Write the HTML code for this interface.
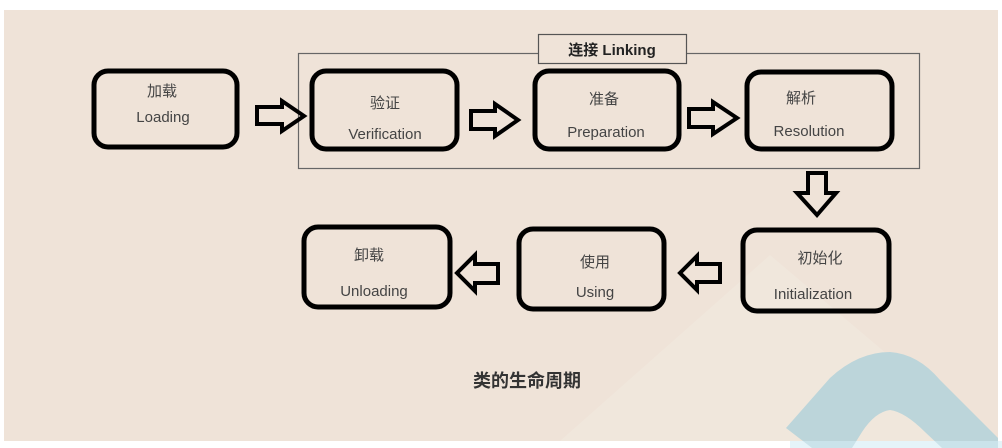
<!DOCTYPE html>
<html><head><meta charset="utf-8"><style>
html,body{margin:0;padding:0;background:#fff;}
svg{display:block;}
text{font-family:"Liberation Sans","Noto Sans CJK SC",sans-serif;fill:#444;}
</style></head><body>
<svg width="1002" height="448" viewBox="0 0 1002 448" xmlns="http://www.w3.org/2000/svg">
<rect x="4" y="10" width="994" height="431" fill="#efe3d8"/>
<polygon points="560,441 770,255 990,441" fill="#f1e8de" opacity="0.7"/>
<path d="M786,428 L830,378 Q858,352 890,352 Q918,354 940,380 L998,438 L998,448 L942,448 L925,432 Q905,412 890,410 Q875,412 862,432 L852,448 L812,448 Z" fill="#bcd5da"/>
<rect x="790" y="441" width="212" height="7" fill="#d4edf5" opacity="0.6"/>
<rect x="298.5" y="53.5" width="621" height="115" fill="none" stroke="#666" stroke-width="1.2"/>
<rect x="538.5" y="34.5" width="148" height="29" fill="#efe3d8" stroke="#555" stroke-width="1.2"/>
<text x="612" y="55" text-anchor="middle" font-size="15" font-weight="bold" style="fill:#222">连接 Linking</text>
<g fill="none" stroke="#000" stroke-width="5">
<rect x="94" y="71" width="143" height="76" rx="14"/>
<rect x="312" y="71" width="145" height="78" rx="14"/>
<rect x="535" y="71" width="144" height="78" rx="14"/>
<rect x="747" y="72" width="145" height="77" rx="14"/>
<rect x="743" y="230" width="146" height="81" rx="14"/>
<rect x="519" y="229" width="145" height="80" rx="14"/>
<rect x="304" y="227" width="146" height="80" rx="14"/>
</g>
<g fill="none" stroke="#000" stroke-width="4" stroke-linejoin="miter">
<polygon points="257,107 282,107 282,101 304,116 282,131 282,124 257,124"/>
<polygon points="471,111 495,111 495,104 518,120 495,136 495,129 471,129"/>
<polygon points="689,109 713,109 713,102 737,118 713,134 713,127 689,127"/>
<polygon points="808,173 826,173 826,193 836,193 817,215 797,193 808,193"/>
<polygon points="720,264 697,264 697,256 680,273 697,290 697,282 720,282"/>
<polygon points="498,264 475,264 475,255 457,273 475,291 475,283 498,283"/>
</g>
<g font-size="15" text-anchor="middle">
<text x="162" y="96">加载</text><text x="163" y="122">Loading</text>
<text x="385" y="108">验证</text><text x="385" y="139">Verification</text>
<text x="604" y="104">准备</text><text x="606" y="137">Preparation</text>
<text x="801" y="103">解析</text><text x="809" y="136">Resolution</text>
<text x="820" y="263">初始化</text><text x="813" y="299">Initialization</text>
<text x="595" y="267">使用</text><text x="595" y="297">Using</text>
<text x="369" y="260">卸载</text><text x="374" y="296">Unloading</text>
</g>
<text x="527" y="387" text-anchor="middle" font-size="18" font-weight="bold" style="fill:#333">类的生命周期</text>
</svg>
</body></html>
